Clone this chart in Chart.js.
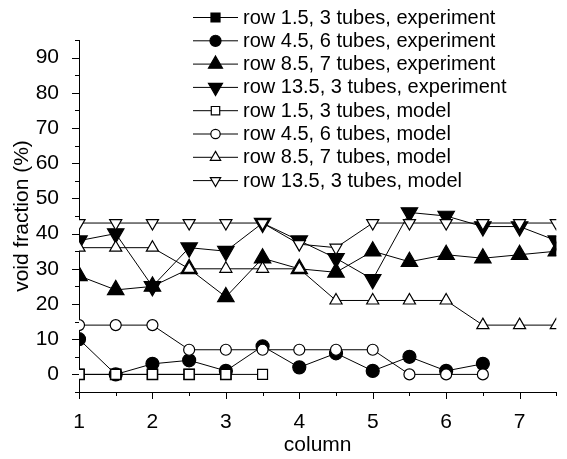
<!DOCTYPE html>
<html>
<head>
<meta charset="utf-8">
<script src="https://cdn.jsdelivr.net/npm/chart.js@4.4.0/dist/chart.umd.min.js"></script>
<style>
  html, body { margin: 0; padding: 0; background: #fff; }
</style>
</head>
<body>
<canvas id="voidChart" width="567" height="459"></canvas>
<script>
// column positions of the measurement points
const columns = [1, 1.5, 2, 2.5, 3, 3.5, 4, 4.5, 5, 5.5, 6, 6.5, 7, 7.5];

// void fraction (%) per row, experiment
const row15Exp  = [0, 0, 0, 0, 0, null, null, null, null, null, null, null, null, null];
const row45Exp  = [10, 0, 3, 4, 1, 8, 2, 6, 1, 5, 1, 3, null, null];
const row85Exp  = [28, 24, 25, 30, 22, 33, 30, 29, 35, 32, 34, 33, 34, 35];
const row135Exp = [38, 40, 25, 36, 35, 43, 38, 33, 27, 46, 45, 42, 42, 38];

// void fraction (%) per row, model
const row15Model  = [0, 0, 0, 0, 0, 0, null, null, null, null, null, null, null, null];
const row45Model  = [14, 14, 14, 7, 7, 7, 7, 7, 7, 0, 0, 0, null, null];
const row85Model  = [36, 36, 36, 30, 30, 30, 30, 21, 21, 21, 21, 14, 14, 14];
const row135Model = [43, 43, 43, 43, 43, 43, 37, 36, 43, 43, 43, 43, 43, 43];

// axis ticks
const xTickValues = [1, 2, 3, 4, 5, 6, 7];
const xMinorValues = [1.5, 2.5, 3.5, 4.5, 5.5, 6.5, 7.5];
const yTickValues = [0, 10, 20, 30, 40, 50, 60, 70, 80, 90];
const yMinorValues = [-5, 5, 15, 25, 35, 45, 55, 65, 75, 85, 95];

const FONT = '"Liberation Sans", Arial, Helvetica, sans-serif';

function toPoints(values) {
    const pts = [];
    values.forEach((v, i) => {
        if (v !== null) pts.push({ x: columns[i], y: v });
    });
    return pts;
}

function makeSet(label, values, style, rotation, radius, filled, order) {
    return {
        label: label,
        data: toPoints(values),
        borderColor: '#000',
        borderWidth: 1,
        pointStyle: style,
        pointRotation: rotation,
        pointRadius: radius,
        pointHoverRadius: radius,
        pointBorderWidth: 1.2,
        pointBorderColor: '#000',
        pointBackgroundColor: filled ? '#000' : '#fff',
        tension: 0,
        fill: false,
        order: order
    };
}

// draws the outward tick marks, long for labelled ticks and short for the minor ones
const tickPlugin = {
    id: 'axisTicks',
    afterDraw(chart) {
        const ctx = chart.ctx;
        const xs = chart.scales.x, ys = chart.scales.y;
        const area = chart.chartArea;
        ctx.save();
        ctx.strokeStyle = '#000';
        ctx.lineWidth = 1;
        ctx.beginPath();
        xTickValues.forEach(v => {
            const px = Math.round(xs.getPixelForValue(v)) + 0.5;
            ctx.moveTo(px, area.bottom); ctx.lineTo(px, area.bottom + 7);
        });
        xMinorValues.forEach(v => {
            const px = Math.round(xs.getPixelForValue(v)) + 0.5;
            ctx.moveTo(px, area.bottom); ctx.lineTo(px, area.bottom + 4);
        });
        yTickValues.forEach(v => {
            const py = Math.round(ys.getPixelForValue(v)) + 0.5;
            ctx.moveTo(area.left, py); ctx.lineTo(area.left - 7, py);
        });
        yMinorValues.forEach(v => {
            const py = Math.round(ys.getPixelForValue(v)) + 0.5;
            ctx.moveTo(area.left, py); ctx.lineTo(area.left - 4, py);
        });
        ctx.stroke();
        ctx.restore();
    }
};

// legend with a line running through each marker
const legendPlugin = {
    id: 'lineLegend',
    afterDraw(chart) {
        const ctx = chart.ctx;
        ctx.save();
        chart.data.datasets.forEach((ds, i) => {
            const y = 17 + i * 23.3;
            ctx.strokeStyle = '#000';
            ctx.lineWidth = 1;
            ctx.beginPath();
            ctx.moveTo(193, y + 0.5);
            ctx.lineTo(238, y + 0.5);
            ctx.stroke();
            ctx.fillStyle = ds.pointBackgroundColor;
            ctx.lineWidth = ds.pointBorderWidth;
            Chart.helpers.drawPoint(ctx, {
                pointStyle: ds.pointStyle,
                rotation: ds.pointRotation,
                radius: ds.pointRadius * 0.85,
                borderWidth: ds.pointBorderWidth
            }, 215.5, y + 0.5);
            ctx.fillStyle = '#000';
            ctx.font = '20px ' + FONT;
            ctx.textBaseline = 'middle';
            ctx.textAlign = 'left';
            ctx.fillText(ds.label, 243, y + 1);
        });
        ctx.restore();
    }
};

const datasets = [
    makeSet('row 1.5, 3 tubes, experiment', row15Exp, 'rect', 0, 7.5, true, 1),
    makeSet('row 4.5, 6 tubes, experiment', row45Exp, 'circle', 0, 6.5, true, 1),
    makeSet('row 8.5, 7 tubes, experiment', row85Exp, 'triangle', 0, 9.5, true, 1),
    makeSet('row 13.5, 3 tubes, experiment', row135Exp, 'triangle', 180, 9.5, true, 1),
    makeSet('row 1.5, 3 tubes, model', row15Model, 'rect', 0, 7, false, 0),
    makeSet('row 4.5, 6 tubes, model', row45Model, 'circle', 0, 5.5, false, 0),
    makeSet('row 8.5, 7 tubes, model', row85Model, 'triangle', 0, 7, false, 0),
    makeSet('row 13.5, 3 tubes, model', row135Model, 'triangle', 180, 7, false, 0)
];

const chart = new Chart(document.getElementById('voidChart'), {
    type: 'line',
    data: { datasets: datasets },
    options: {
        responsive: false,
        animation: false,
        layout: { padding: { top: 40, right: 10, left: 0, bottom: 0 } },
        plugins: {
            legend: { display: false },
            tooltip: { enabled: false }
        },
        scales: {
            x: {
                type: 'linear',
                min: 1,
                max: 7.5,
                afterBuildTicks: s => { s.ticks = xTickValues.map(v => ({ value: v })); },
                afterFit: s => { s.height = 67; },
                grid: { display: false },
                border: { display: true, color: '#000', width: 1 },
                ticks: { color: '#000', font: { family: FONT, size: 21 }, padding: 10, maxRotation: 0 },
                title: { display: true, text: 'column', color: '#000', font: { family: FONT, size: 21 }, padding: { top: 0, bottom: 1 } }
            },
            y: {
                type: 'linear',
                min: -5,
                max: 95,
                afterBuildTicks: s => { s.ticks = yTickValues.map(v => ({ value: v })); },
                afterFit: s => { s.width = 79; },
                grid: { display: false },
                border: { display: true, color: '#000', width: 1 },
                ticks: { color: '#000', font: { family: FONT, size: 21 }, padding: 12 },
                title: { display: true, text: 'void fraction (%)', color: '#000', font: { family: FONT, size: 21 }, padding: { top: 10, bottom: 0 } }
            }
        }
    },
    plugins: [tickPlugin, legendPlugin]
});
</script>
</body>
</html>
